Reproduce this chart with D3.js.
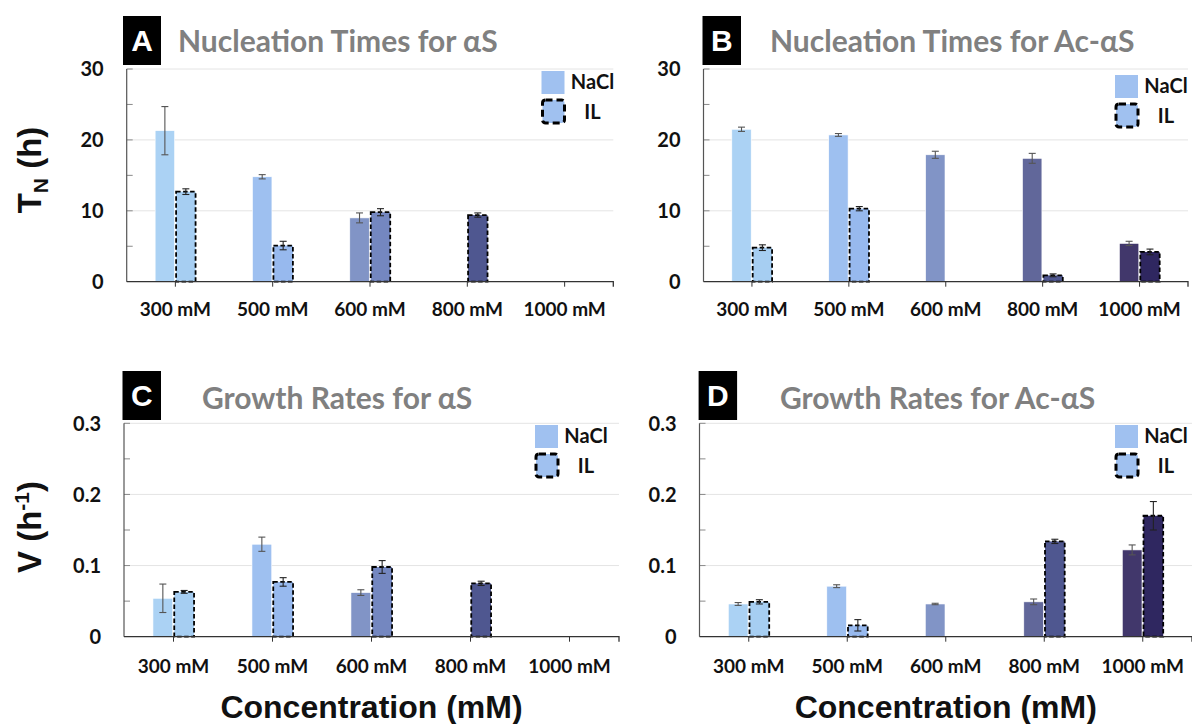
<!DOCTYPE html>
<html>
<head>
<meta charset="utf-8">
<script src="https://cdn.jsdelivr.net/npm/d3@7"></script>
<style>
  html, body { margin: 0; padding: 0; background: #fff; }
  svg { display: block; }
</style>
</head>
<body>
<svg id="fig" width="1192" height="724"></svg>
<script>
// ---- data -------------------------------------------------------------
const concentrations = ["300 mM", "500 mM", "600 mM", "800 mM", "1000 mM"];

// Nucleation times T_N (h), alpha-synuclein
const nucAlphaNaCl    = [21.3, 14.8, 9.0, null, null];
const nucAlphaNaClErr = [3.4, 0.3, 0.7, null, null];
const nucAlphaIL      = [12.7, 5.1, 9.8, 9.4, null];
const nucAlphaILErr   = [0.4, 0.6, 0.5, 0.3, null];

// Nucleation times T_N (h), N-acetylated alpha-synuclein
const nucAcNaCl    = [21.5, 20.7, 17.9, 17.4, 5.4];
const nucAcNaClErr = [0.3, 0.2, 0.5, 0.7, 0.3];
const nucAcIL      = [4.8, 10.3, null, 0.9, 4.2];
const nucAcILErr   = [0.4, 0.3, null, 0.2, 0.4];

// Growth rates V (1/h), alpha-synuclein
const growAlphaNaCl    = [0.054, 0.130, 0.062, null, null];
const growAlphaNaClErr = [0.020, 0.010, 0.004, null, null];
const growAlphaIL      = [0.063, 0.077, 0.098, 0.075, null];
const growAlphaILErr   = [0.002, 0.006, 0.009, 0.003, null];

// Growth rates V (1/h), N-acetylated alpha-synuclein
const growAcNaCl    = [0.046, 0.071, 0.046, 0.049, 0.122];
const growAcNaClErr = [0.002, 0.002, 0.001, 0.004, 0.007];
const growAcIL      = [0.049, 0.016, null, 0.134, 0.170];
const growAcILErr   = [0.003, 0.008, null, 0.003, 0.020];

const nucTicks = [0, 10, 20, 30];
const nucTickLabels = ["0", "10", "20", "30"];
const growTicks = [0, 0.1, 0.2, 0.3];
const growTickLabels = ["0", "0.1", "0.2", "0.3"];

const seriesNames = ["NaCl", "IL"];

// ---- styling -----------------------------------------------------------
const naclColors = ["#abd2f4", "#9ec0f0", "#8194c6", "#61679a", "#41376b"];
const ilColors   = ["#a6cef2", "#97b9ee", "#7487c0", "#4f5790", "#2f2760"];
const legendFill = "#a0c1f0";
const fontMain = "Lato, 'Open Sans', 'Noto Sans', sans-serif";
const fontAxis = "'Liberation Sans', Arial, sans-serif";

const panels = [
  { letter: "A", title: "Nucleation Times for αS",
    nacl: nucAlphaNaCl, naclErr: nucAlphaNaClErr, il: nucAlphaIL, ilErr: nucAlphaILErr,
    ticks: nucTicks, tickLabels: nucTickLabels, max: 30, minor: 5,
    x0: 126.7, x1: 613.3, top: 69, base: 281.7,
    box: [123, 16, 38, 49], titleX: 178, titleY: 52, legend: [541.5, 71], labelDy: 34 },
  { letter: "B", title: "Nucleation Times for Ac-αS",
    nacl: nucAcNaCl, naclErr: nucAcNaClErr, il: nucAcIL, ilErr: nucAcILErr,
    ticks: nucTicks, tickLabels: nucTickLabels, max: 30, minor: 5,
    x0: 703.5, x1: 1188, top: 69, base: 281.7,
    box: [702.5, 16, 38.5, 49], titleX: 770, titleY: 52, legend: [1115, 75], labelDy: 34 },
  { letter: "C", title: "Growth Rates for αS",
    nacl: growAlphaNaCl, naclErr: growAlphaNaClErr, il: growAlphaIL, ilErr: growAlphaILErr,
    ticks: growTicks, tickLabels: growTickLabels, max: 0.3, minor: 0.05,
    x0: 124, x1: 619, top: 423.3, base: 636.7,
    box: [122.5, 371, 38.5, 49], titleX: 202, titleY: 408.5, legend: [535, 425], labelDy: 36 },
  { letter: "D", title: "Growth Rates for Ac-αS",
    nacl: growAcNaCl, naclErr: growAcNaClErr, il: growAcIL, ilErr: growAcILErr,
    ticks: growTicks, tickLabels: growTickLabels, max: 0.3, minor: 0.05,
    x0: 699.5, x1: 1192, top: 423.3, base: 636.7,
    box: [698.6, 371, 38.5, 49], titleX: 780, titleY: 408.5, legend: [1115, 425], labelDy: 36 }
];

const svg = d3.select("#fig");

panels.forEach(p => {
  const g = svg.append("g");
  const x = d3.scaleBand().domain(concentrations).range([p.x0, p.x1]);
  const y = d3.scaleLinear().domain([0, p.max]).range([p.base, p.top]);
  const step = x.step();
  const bw = step * 0.2;
  const gap = 1.5;
  const cx = c => x(c) + x.bandwidth() / 2;

  // horizontal gridlines at the major ticks
  g.append("g").selectAll("line").data(p.ticks.slice(1)).join("line")
    .attr("x1", p.x0).attr("x2", p.x1)
    .attr("y1", d => y(d)).attr("y2", d => y(d))
    .attr("stroke", "#e4e4e4").attr("stroke-width", 1);

  // inward minor ticks on the value axis
  const minorVals = d3.range(1, Math.round(p.max / p.minor) + 1).map(i => i * p.minor);
  g.append("g").selectAll("line").data(minorVals).join("line")
    .attr("x1", p.x0).attr("x2", p.x0 + 6)
    .attr("y1", d => y(d)).attr("y2", d => y(d))
    .attr("stroke", "#8a8a8a").attr("stroke-width", 1);

  // value axis line
  g.append("line")
    .attr("x1", p.x0).attr("x2", p.x0).attr("y1", p.top).attr("y2", p.base)
    .attr("stroke", "#555").attr("stroke-width", 1.2);

  // value tick labels
  g.append("g").selectAll("text").data(p.ticks).join("text")
    .attr("x", p.x0 - 23).attr("y", d => y(d)).attr("dy", "0.36em")
    .attr("text-anchor", "end")
    .attr("font-family", fontMain).attr("font-weight", 700).attr("font-size", 20)
    .attr("fill", "#111")
    .text((d, i) => p.tickLabels[i]);

  // bars
  const rows = concentrations.map((c, i) => ({ c, i,
    nacl: p.nacl[i], naclErr: p.naclErr[i], il: p.il[i], ilErr: p.ilErr[i] }));

  g.append("g").selectAll("rect").data(rows.filter(r => r.nacl != null)).join("rect")
    .attr("x", r => cx(r.c) - gap / 2 - bw)
    .attr("y", r => y(r.nacl))
    .attr("width", bw)
    .attr("height", r => y(0) - y(r.nacl))
    .attr("fill", r => naclColors[r.i])
    .attr("stroke", "#ffffff").attr("stroke-width", 0.6);

  g.append("g").selectAll("rect").data(rows.filter(r => r.il != null)).join("rect")
    .attr("x", r => cx(r.c) + gap / 2)
    .attr("y", r => y(r.il))
    .attr("width", bw)
    .attr("height", r => y(0) - y(r.il))
    .attr("fill", r => ilColors[r.i])
    .attr("stroke", "#000").attr("stroke-width", 1.8)
    .attr("stroke-dasharray", "4.5,2.5");

  // error bars
  const errs = [];
  rows.forEach(r => {
    if (r.nacl != null) errs.push({ x: cx(r.c) - gap / 2 - bw / 2, v: r.nacl, e: r.naclErr, col: "#555" });
    if (r.il != null) errs.push({ x: cx(r.c) + gap / 2 + bw / 2, v: r.il, e: r.ilErr, col: "#222" });
  });
  const eg = g.append("g").attr("fill", "none").attr("stroke-width", 1.1);
  errs.forEach(d => {
    const yHi = y(d.v + d.e), yLo = y(d.v - d.e);
    eg.append("line").attr("x1", d.x).attr("x2", d.x).attr("y1", yHi).attr("y2", yLo).attr("stroke", d.col);
    eg.append("line").attr("x1", d.x - 3.5).attr("x2", d.x + 3.5).attr("y1", yHi).attr("y2", yHi).attr("stroke", d.col);
    eg.append("line").attr("x1", d.x - 3.5).attr("x2", d.x + 3.5).attr("y1", yLo).attr("y2", yLo).attr("stroke", d.col);
  });

  // category axis
  const xAxis = d3.axisBottom(x).tickSizeInner(5).tickSizeOuter(5).tickPadding(0).tickFormat("");
  const ax = g.append("g").attr("transform", `translate(0,${p.base})`).call(xAxis);
  ax.select(".domain").attr("stroke", "#333").attr("stroke-width", 1.3)
    .attr("d", `M${p.x0},0H${p.x1}V5`);
  ax.selectAll(".tick line").attr("stroke", "#333");
  g.append("g").selectAll("text").data(concentrations).join("text")
    .attr("x", c => cx(c)).attr("y", p.base + p.labelDy)
    .attr("text-anchor", "middle")
    .attr("font-family", fontMain).attr("font-weight", 700).attr("font-size", 19)
    .attr("fill", "#111")
    .text(c => c);

  // panel letter box and title
  g.append("rect").attr("x", p.box[0]).attr("y", p.box[1]).attr("width", p.box[2]).attr("height", p.box[3])
    .attr("fill", "#000");
  g.append("text").attr("x", p.box[0] + p.box[2] / 2).attr("y", p.box[1] + p.box[3] / 2).attr("dy", "0.36em")
    .attr("text-anchor", "middle").attr("font-family", fontAxis).attr("font-weight", 700)
    .attr("font-size", 30).attr("fill", "#fff").text(p.letter);
  g.append("text").attr("x", p.titleX).attr("y", p.titleY)
    .attr("font-family", fontMain).attr("font-weight", 700).attr("font-size", 30)
    .attr("fill", "#808080").text(p.title);

  // legend
  const [lx, ly] = p.legend;
  const lg = g.append("g");
  lg.append("rect").attr("x", lx).attr("y", ly).attr("width", 23).attr("height", 23).attr("fill", legendFill);
  lg.append("rect").attr("x", lx + 1).attr("y", ly + 29).attr("width", 22).attr("height", 23)
    .attr("rx", 3).attr("fill", legendFill)
    .attr("stroke", "#000").attr("stroke-width", 3).attr("stroke-dasharray", "7,4");
  lg.selectAll("text").data(seriesNames).join("text")
    .attr("x", lx + 51).attr("y", (d, i) => ly + 18 + i * 30)
    .attr("text-anchor", "middle")
    .attr("font-family", fontMain).attr("font-weight", 700).attr("font-size", 20)
    .attr("fill", "#111").text(d => d);
});

// axis titles
const yt1 = svg.append("text").attr("transform", "translate(41,170) rotate(-90)")
  .attr("text-anchor", "middle").attr("font-family", fontAxis).attr("font-weight", 700)
  .attr("font-size", 33).attr("fill", "#111");
yt1.append("tspan").text("T");
yt1.append("tspan").attr("font-size", 21).attr("dy", 7).text("N");
yt1.append("tspan").attr("dy", -7).text(" (h)");

const yt2 = svg.append("text").attr("transform", "translate(41,527) rotate(-90)")
  .attr("text-anchor", "middle").attr("font-family", fontAxis).attr("font-weight", 700)
  .attr("font-size", 33).attr("fill", "#111");
yt2.append("tspan").text("V (h");
yt2.append("tspan").attr("font-size", 21).attr("dy", -12).text("-1");
yt2.append("tspan").attr("dy", 12).text(")");

[panels[2], panels[3]].forEach(p => {
  svg.append("text").attr("x", (p.x0 + p.x1) / 2).attr("y", 718)
    .attr("text-anchor", "middle").attr("font-family", fontAxis).attr("font-weight", 700)
    .attr("font-size", 32).attr("fill", "#111").text("Concentration (mM)");
});
</script>
</body>
</html>
